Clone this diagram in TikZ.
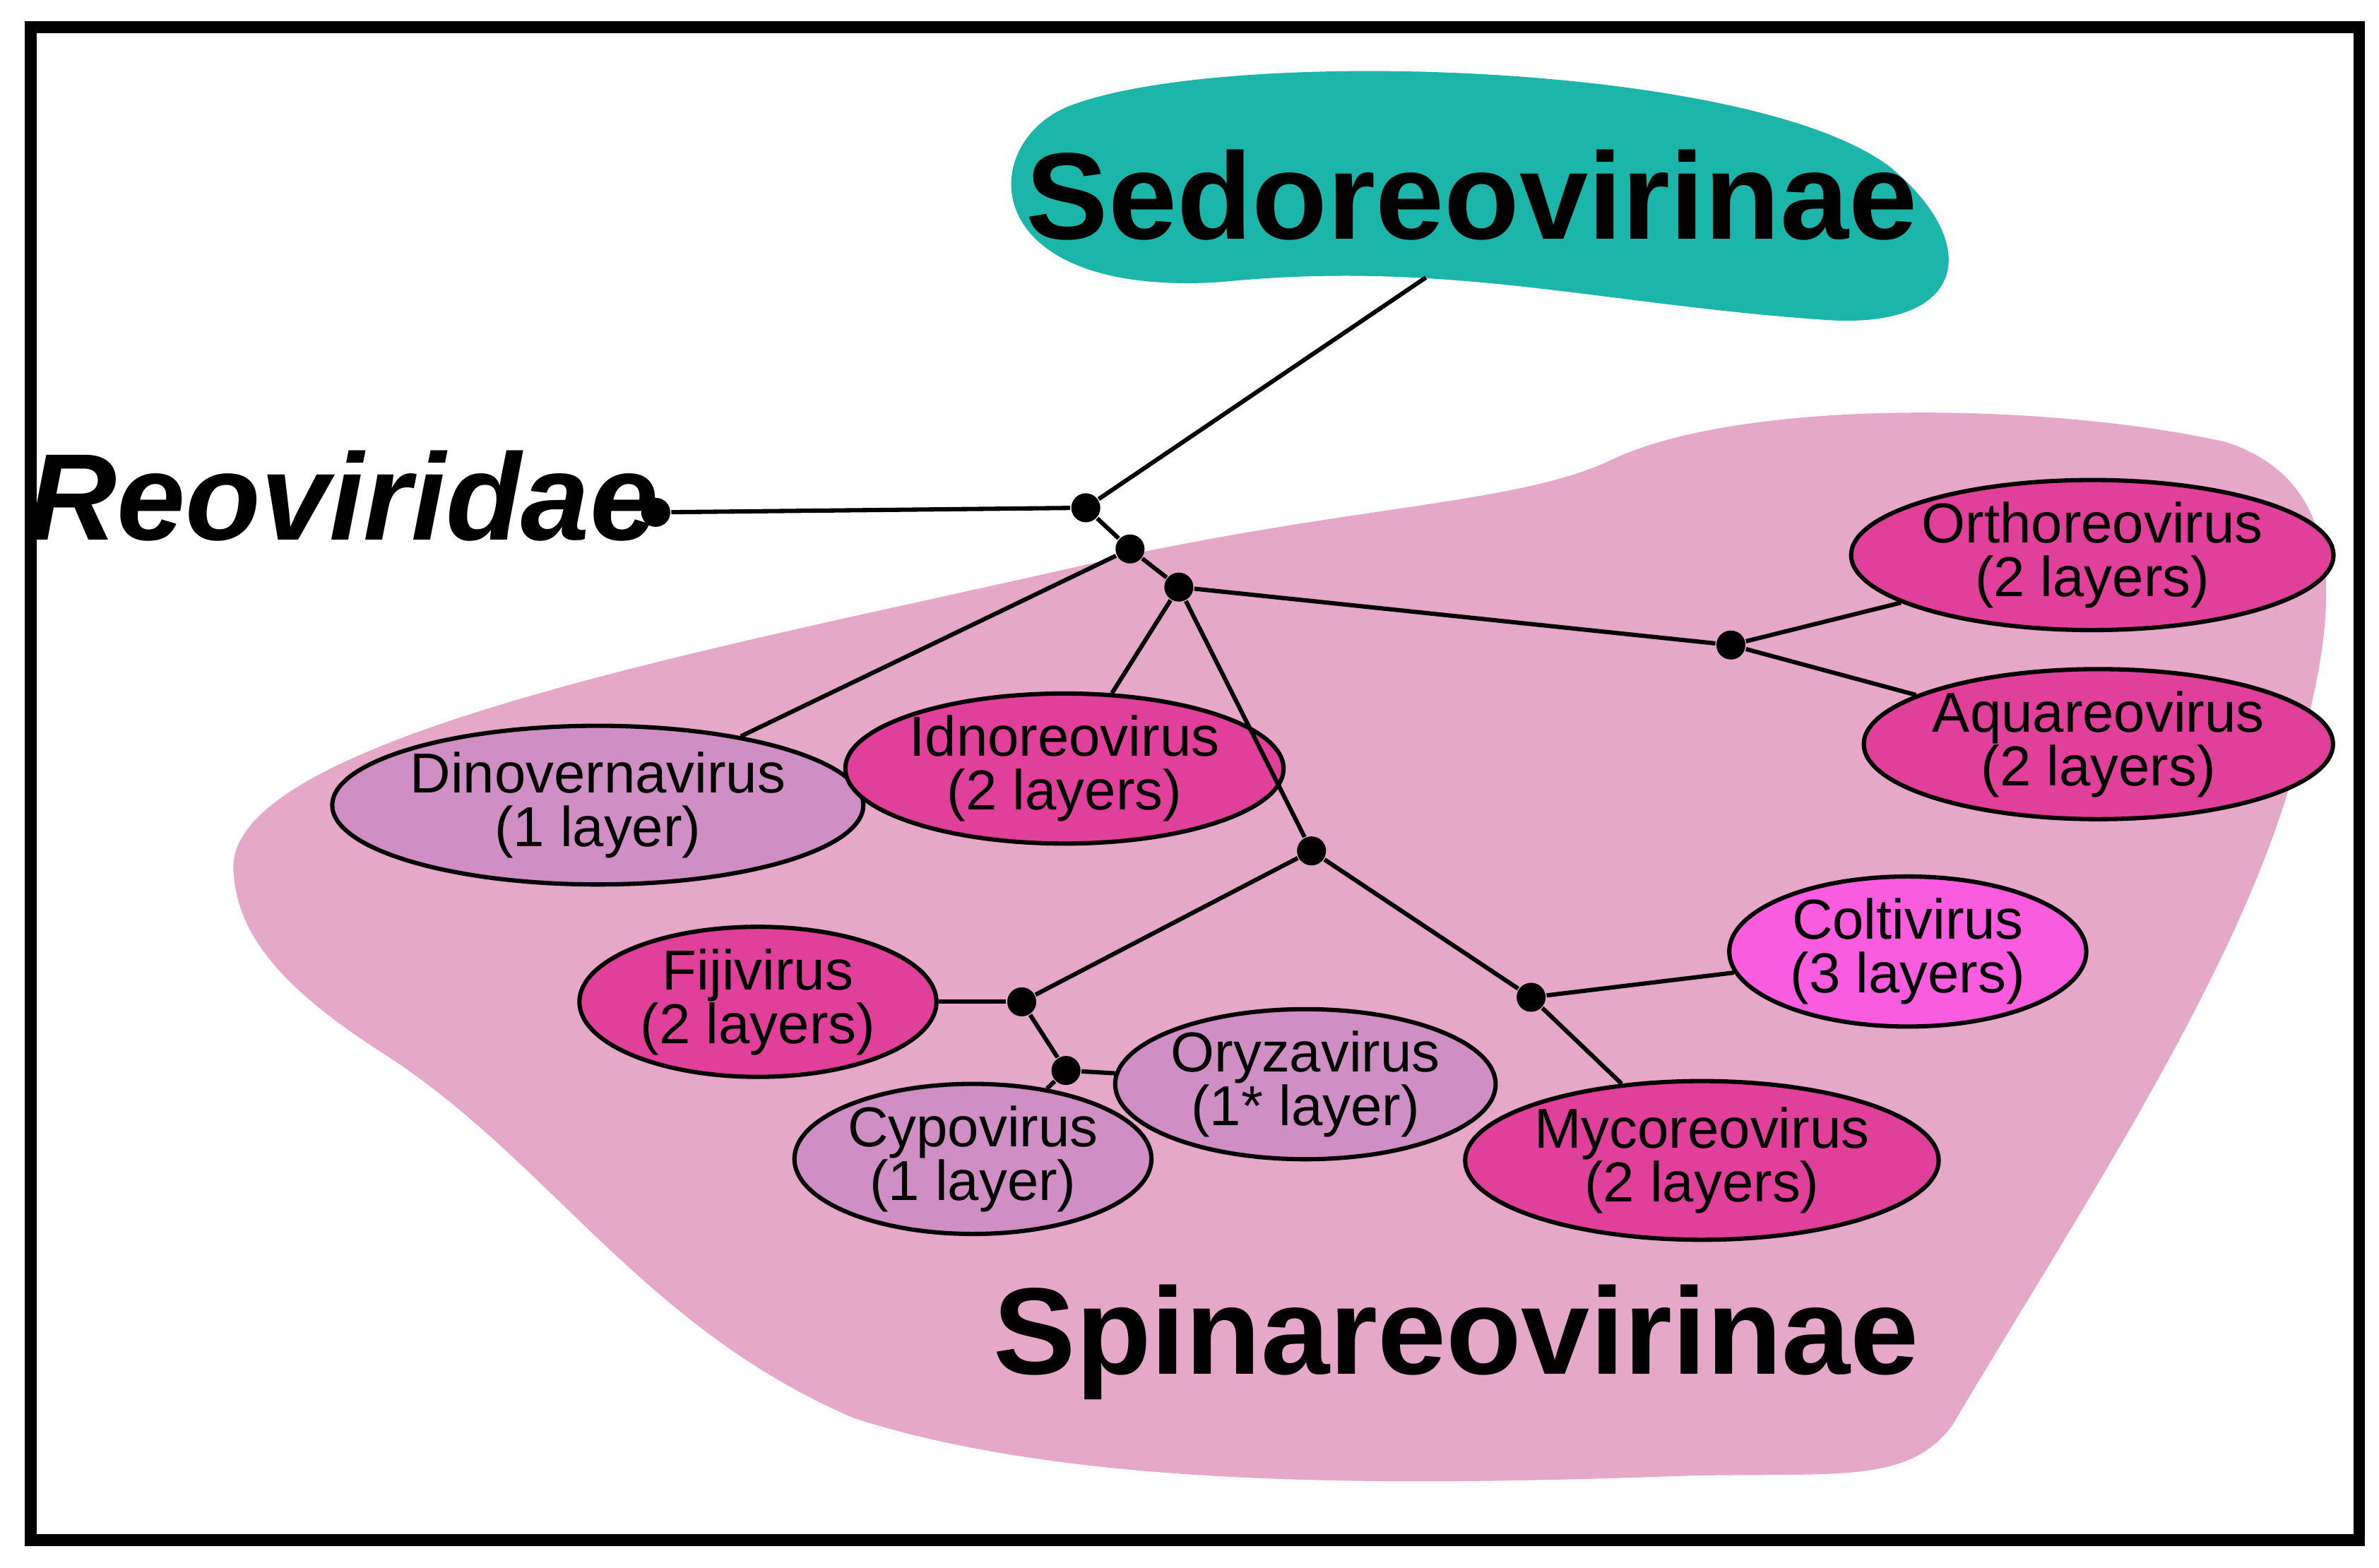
\documentclass[tikz,border=0pt]{standalone}
\usepackage{fontspec}
\setmainfont{Liberation Sans}
\usetikzlibrary{shapes.geometric}
\definecolor{teal}{HTML}{1BB6A9}
\definecolor{spinpink}{HTML}{E5A8C8}
\definecolor{lilac}{HTML}{D08FC4}
\definecolor{magenta}{HTML}{E0409A}
\definecolor{hotpink}{HTML}{FA5CE0}
\begin{document}
\begin{tikzpicture}[x=0.01cm, y=-0.01cm,
    genus/.style={draw, thick, ellipse, inner sep=0pt, minimum width=2.34cm, minimum height=0.84cm, align=center, font=\fontsize{10.5}{10}\selectfont},
    dot/.style={fill, circle, inner sep=0pt, minimum size=0.19cm},
    edge/.style={thick}]
        \useasboundingbox (0, 0) rectangle (1560, 1028);
        \draw [line width=2.2pt] (20, 18) rectangle (1547, 1010);

        % subfamily blobs
        \fill [teal] (700, 70) .. controls (800, 30) and (1150, 40) .. (1240, 110)
            .. controls (1300, 160) and (1290, 215) .. (1200, 210)
            .. controls (1050, 200) and (950, 170) .. (800, 185)
            .. controls (640, 195) and (640, 95) .. (700, 70);
        \fill [spinpink] (153, 570) .. controls (150, 480) and (500, 420) .. (735, 365)
            .. controls (900, 330) and (1000, 330) .. (1060, 300)
            .. controls (1150, 260) and (1350, 265) .. (1460, 290)
            .. controls (1550, 320) and (1530, 420) .. (1500, 520)
            .. controls (1460, 650) and (1360, 800) .. (1280, 935)
            .. controls (1250, 975) and (1200, 965) .. (1100, 968)
            .. controls (900, 975) and (700, 975) .. (560, 930)
            .. controls (420, 870) and (360, 760) .. (250, 690)
            .. controls (180, 645) and (155, 610) .. (153, 570);
        \node (sedo) at (965, 128) {\fontsize{23}{23}\selectfont\bfseries Sedoreovirinae};
        \node (spina) at (955, 880) {\fontsize{23}{23}\selectfont\bfseries Spinareovirinae};
        \node (reo) at (225, 325) {\fontsize{23}{23}\selectfont\bfseries\itshape Reoviridae};
        \coordinate (sedoB) at (935, 182);

        % branch points
        \node [dot] (root) at (430, 336) {};
        \node [dot] (n1) at (712, 333) {};
        \node [dot] (n2) at (741, 360) {};
        \node [dot] (n3) at (773, 385) {};
        \node [dot] (n4) at (1135, 423) {};
        \node [dot] (n5) at (860, 558) {};
        \node [dot] (n6) at (670, 657) {};
        \node [dot] (n7) at (699, 702) {};
        \node [dot] (n8) at (1004, 654) {};

        % genera
        \node [genus, fill=lilac, minimum height=1.04cm] (dino) at (392, 528) {Dinovernavirus\\(1 layer)};
        \node [genus, fill=magenta] (idno) at (698, 504) {Idnoreovirus\\(2 layers)};
        \node [genus, fill=magenta, minimum height=0.92cm] (ortho) at (1372, 364) {Orthoreovirus\\(2 layers)};
        \node [genus, fill=magenta, minimum height=0.92cm] (aqua) at (1376, 488) {Aquareovirus\\(2 layers)};
        \node [genus, fill=hotpink, minimum height=0.92cm] (colti) at (1251, 624) {Coltivirus\\(3 layers)};
        \node [genus, fill=magenta, minimum height=0.8cm] (fiji) at (497, 657) {Fijivirus\\(2 layers)};
        \node [genus, fill=lilac, minimum height=0.8cm] (oryza) at (856, 711) {Oryzavirus\\(1* layer)};
        \node [genus, fill=lilac, minimum height=0.8cm] (cypo) at (638, 760) {Cypovirus\\(1 layer)};
        \node [genus, fill=magenta, minimum height=1.04cm] (myco) at (1116, 761) {Mycoreovirus\\(2 layers)};

        \draw [edge] (root) -- (n1);
        \draw [edge] (n1) -- (sedoB);
        \draw [edge] (n1) -- (n2);
        \draw [edge] (n2) -- (n3);
        \draw [edge] (n2) -- (dino);
        \draw [edge] (n3) -- (idno);
        \draw [edge] (n3) -- (n4);
        \draw [edge] (n3) -- (n5);
        \draw [edge] (n4) -- (ortho);
        \draw [edge] (n4) -- (aqua);
        \draw [edge] (n5) -- (n6);
        \draw [edge] (n5) -- (n8);
        \draw [edge] (n6) -- (fiji);
        \draw [edge] (n6) -- (n7);
        \draw [edge] (n7) -- (oryza);
        \draw [edge] (n7) -- (cypo);
        \draw [edge] (n8) -- (colti);
        \draw [edge] (n8) -- (myco);
    \end{tikzpicture}
\end{document}
